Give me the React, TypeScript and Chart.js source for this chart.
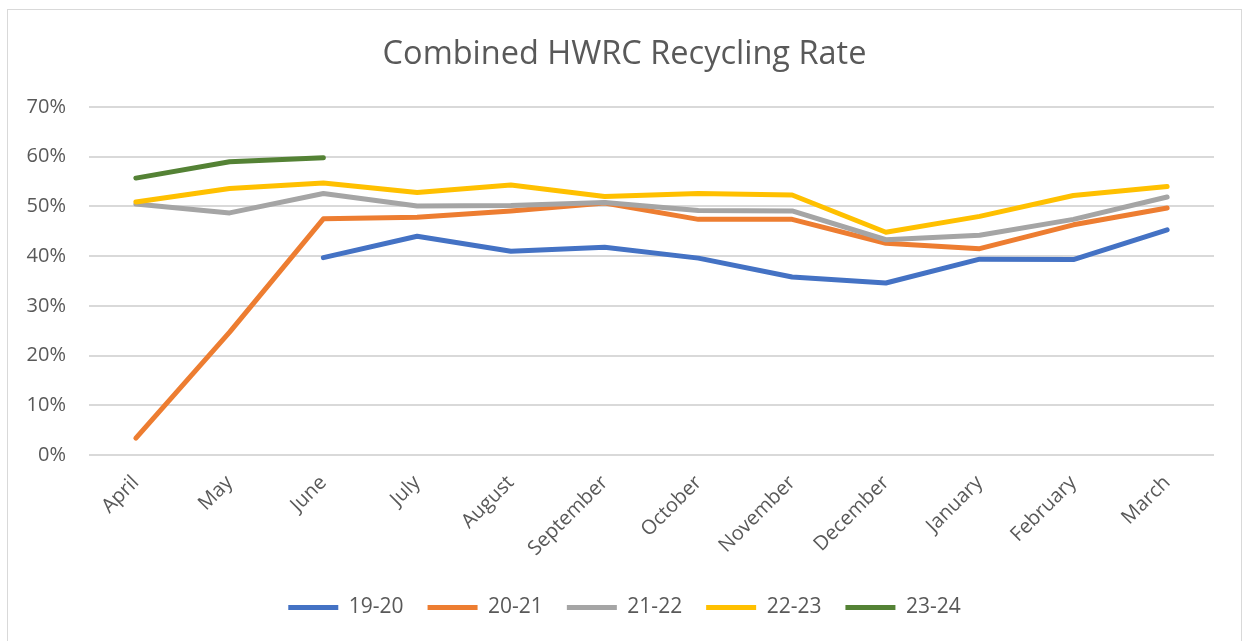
import React, { useEffect, useRef } from "react";
import { Chart, registerables } from "chart.js";

Chart.register(...registerables);

const FONT = "'Open Sans', sans-serif";
const TEXT_COLOR = "#595959";

const months = [
  "April", "May", "June", "July", "August", "September",
  "October", "November", "December", "January", "February", "March",
];

const s1920 = [null, null, 39.7, 44.0, 41.0, 41.8, 39.6, 35.8, 34.6, 39.4, 39.3, 45.3];
const s2021 = [3.4, 24.7, 47.5, 47.8, 49.1, 50.7, 47.4, 47.4, 42.6, 41.5, 46.3, 49.7];
const s2122 = [50.5, 48.7, 52.6, 50.1, 50.2, 50.8, 49.2, 49.1, 43.3, 44.2, 47.4, 51.9];
const s2223 = [50.9, 53.6, 54.7, 52.8, 54.3, 52.0, 52.6, 52.3, 44.8, 48.0, 52.2, 54.0];
const s2324 = [55.7, 59.0, 59.8, null, null, null, null, null, null, null, null, null];

const seriesNames = ["19-20", "20-21", "21-22", "22-23", "23-24"];
const seriesData = [s1920, s2021, s2122, s2223, s2324];
const seriesColors = ["#4472C4", "#ED7D31", "#A5A5A5", "#FFC000", "#548235"];

const yMin = 0;
const yMax = 70;
const yStep = 10;

export default function App() {
  const ref = useRef<HTMLCanvasElement>(null);

  useEffect(() => {
    if (!ref.current) return;
    const chart = new Chart(ref.current, {
      type: "line",
      data: {
        labels: months,
        datasets: seriesData.map((d, i) => ({
          label: seriesNames[i],
          data: d,
          borderColor: seriesColors[i],
          backgroundColor: seriesColors[i],
          borderWidth: 5,
          pointRadius: 0,
          borderCapStyle: "round" as const,
          borderJoinStyle: "round" as const,
          tension: 0,
          spanGaps: false,
          order: seriesData.length - i,
          yAxisID: "y",
        })),
      },
      options: {
        responsive: false,
        animation: false,
        events: [],
        layout: { padding: { left: 0, right: 0, top: 0, bottom: 13 } },
        plugins: {
          title: {
            display: true,
            text: "Combined HWRC Recycling Rate",
            color: TEXT_COLOR,
            font: { family: FONT, size: 32.5, weight: "normal" },
            padding: { top: 25, bottom: 33 },
          },
          legend: {
            position: "bottom",
            labels: {
              usePointStyle: true,
              pointStyle: "line",
              pointStyleWidth: 50,
              color: TEXT_COLOR,
              font: { family: FONT, size: 21 },
              padding: 24,
              sort: (a: any, b: any) => a.datasetIndex - b.datasetIndex,
            },
          },
          tooltip: { enabled: false },
        },
        scales: {
          x: {
            offset: true,
            grid: { display: false },
            border: { display: false },
            ticks: {
              color: TEXT_COLOR,
              font: { family: FONT, size: 20 },
              minRotation: 45,
              maxRotation: 45,
              padding: 8,
              autoSkip: false,
            },
            afterFit: (s: any) => {
              s.height = 118;
            },
          },
          y: {
            position: "left",
            min: yMin,
            max: yMax,
            ticks: {
              stepSize: yStep,
              callback: (v: any) => `${v}%`,
              color: TEXT_COLOR,
              font: { family: FONT, size: 20 },
              padding: 23,
            },
            grid: { color: "#d9d9d9", lineWidth: 2, drawTicks: false },
            border: { display: false },
            afterFit: (s: any) => {
              s.width = 81;
            },
          },
          yRight: {
            position: "right",
            display: true,
            grid: { display: false, drawTicks: false },
            border: { display: false },
            ticks: { display: false },
            afterFit: (s: any) => {
              s.width = 27;
            },
          },
        },
      },
    });
    return () => chart.destroy();
  }, []);

  return (
    <div
      style={{
        position: "absolute",
        left: 7,
        top: 9,
        width: 1235,
        height: 632,
        border: "1px solid #d9d9d9",
        borderBottom: "none",
        boxSizing: "border-box",
        background: "#fff",
      }}
    >
      <canvas ref={ref} width={1233} height={631} />
    </div>
  );
}
